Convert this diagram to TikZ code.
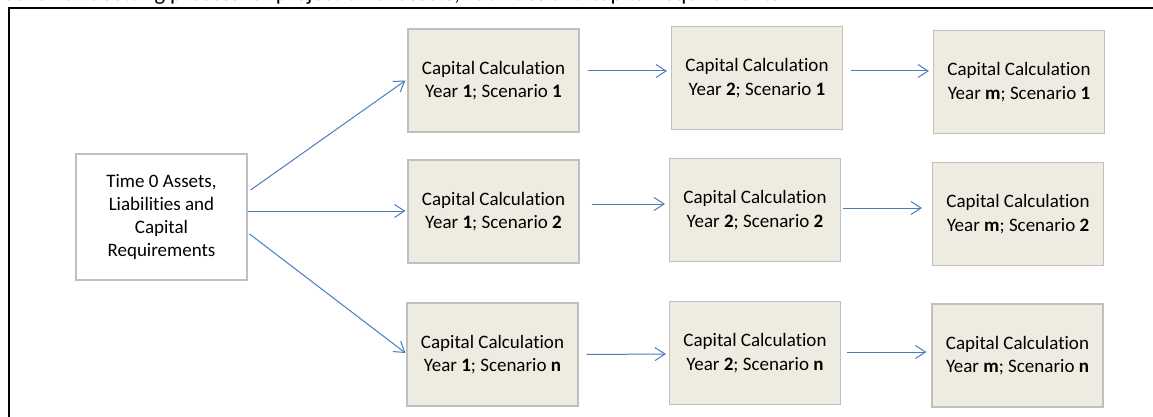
\documentclass[tikz,border=0pt]{standalone}
\usepackage{fontspec}
\setmainfont{Carlito}[Ligatures=NoCommon]
\usetikzlibrary{arrows.meta}
\definecolor{boxfill}{HTML}{EEECE1}
\definecolor{boxline}{HTML}{BFBFBF}
\definecolor{linkblue}{HTML}{4A7EBB}

\begin{document}
\begin{tikzpicture}[x=1pt,y=-1pt,
  calcbox/.style={draw=boxline,fill=boxfill,line width=1.2pt,minimum width=171pt,minimum height=103pt,inner sep=0pt,align=center,font=\fontsize{19}{23.3}\selectfont},
  origbox/.style={calcbox,fill=white,minimum height=126pt},
  link/.style={draw=linkblue,line width=1pt,-{Straight Barb[length=10pt,width=13pt,line width=1pt]}}]

\useasboundingbox (0,0) rectangle (1153,417);
\clip (0,0) rectangle (1153,417);

% caption, cut off at the top
\node[anchor=base west,inner sep=0pt,font=\fontsize{22.5}{27}\selectfont] (caption) at (4,0.5) {Schematic setting process for projection of assets, liabilities and capital requirements};

\draw [line width=2pt] (9,425) -- (9,8.5) -- (1160,8.5);

\node[origbox] (t0) at (161.5,217) {Time 0 Assets,\\Liabilities and\\Capital\\Requirements};

\node[calcbox] (r1c1) at (493.5,80.5) {Capital Calculation\\Year \textbf{1}; Scenario \textbf{1}};
\node[calcbox] (r1c2) at (757,78) {Capital Calculation\\Year \textbf{2}; Scenario \textbf{1}};
\node[calcbox] (r1c3) at (1019,82) {Capital Calculation\\Year \textbf{m}; Scenario \textbf{1}};

\node[calcbox] (r2c1) at (493.5,211.5) {Capital Calculation\\Year \textbf{1}; Scenario \textbf{2}};
\node[calcbox] (r2c2) at (755,210) {Capital Calculation\\Year \textbf{2}; Scenario \textbf{2}};
\node[calcbox] (r2c3) at (1018,214) {Capital Calculation\\Year \textbf{m}; Scenario \textbf{2}};

\node[calcbox] (r3c1) at (492.5,354.5) {Capital Calculation\\Year \textbf{1}; Scenario \textbf{n}};
\node[calcbox] (r3c2) at (755,353) {Capital Calculation\\Year \textbf{2}; Scenario \textbf{n}};
\node[calcbox] (r3c3) at (1017.5,355.5) {Capital Calculation\\Year \textbf{m}; Scenario \textbf{n}};

% from time 0 to the first year
\draw [link] ([shift={(3,-27)}]t0.east) -- ([shift={(-2,0)}]r1c1.west);
\draw [link] ([shift={(0,-6)}]t0.east) -- ([shift={(-2,-0.5)}]r2c1.west);
\draw [link] ([shift={(2,17)}]t0.east) -- ([shift={(-1,-1.5)}]r3c1.west);

% year to year
\draw [link] ([shift={(8,-9.5)}]r1c1.east) -- ([shift={(-4,-7)}]r1c2.west);
\draw [link] ([shift={(8,-7)}]r1c2.east) -- ([shift={(-4,-11)}]r1c3.west);

\draw [link] ([shift={(12,-7.5)}]r2c1.east) -- ([shift={(-4,-6)}]r2c2.west);
\draw [link] ([shift={(2,-2)}]r2c2.east) -- ([shift={(-10,-6)}]r2c3.west);

\draw [link] ([shift={(8,0)}]r3c1.east) -- ([shift={(-3,1)}]r3c2.west);
\draw [link] ([shift={(6,-1)}]r3c2.east) -- ([shift={(-5,-3.5)}]r3c3.west);

\end{tikzpicture}
\end{document}
